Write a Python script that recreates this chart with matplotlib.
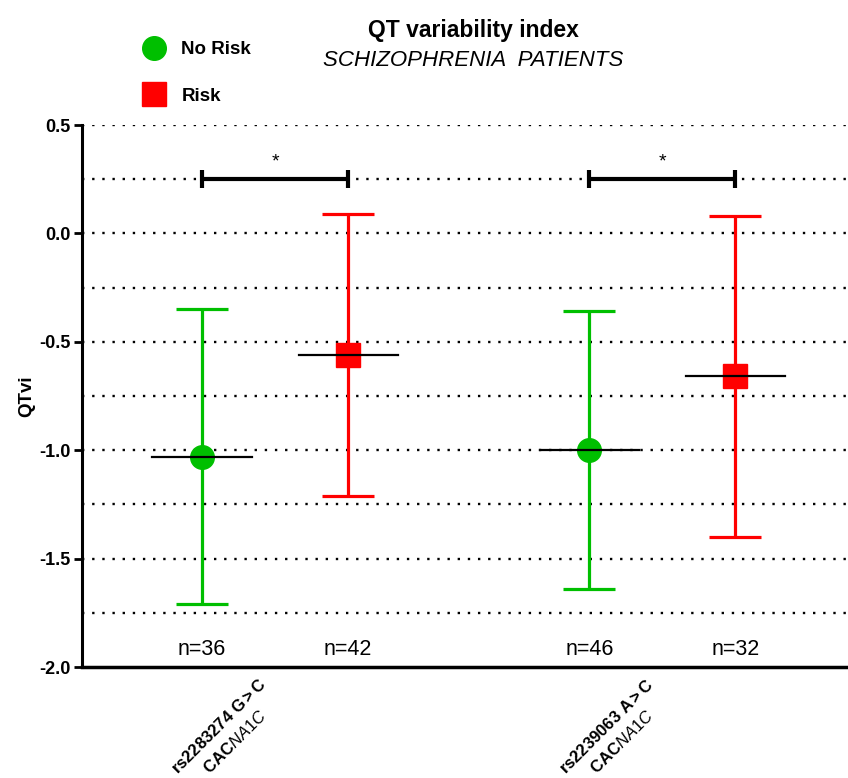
import matplotlib.pyplot as plt
import numpy as np
from matplotlib.lines import Line2D

plt.rcParams['font.family'] = ['Liberation Sans', 'DejaVu Sans']
plt.rcParams['mathtext.fontset'] = 'custom'
plt.rcParams['mathtext.rm'] = 'Liberation Sans'
plt.rcParams['mathtext.bf'] = 'Liberation Sans:bold'
plt.rcParams['mathtext.it'] = 'Liberation Sans:italic'

# Data
groups = [r"$\bf{rs2283274\ G>C}$" + "\n" + r"$\bf{CAC}\it{NA1C}$",
          r"$\bf{rs2239063\ A>C}$" + "\n" + r"$\bf{CAC}\it{NA1C}$"]
positions = [1.0, 2.0, 3.65, 4.65]
status = ['No Risk', 'Risk', 'No Risk', 'Risk']
means = [-1.03, -0.56, -1.00, -0.66]
upper = [-0.35, 0.09, -0.36, 0.08]
lower = [-1.71, -1.21, -1.64, -1.40]
n_labels = ['n=36', 'n=42', 'n=46', 'n=32']
sig_y = 0.25
sig_pairs = [(0, 1), (2, 3)]

colors = {'No Risk': '#00BF00', 'Risk': '#FF0000'}
markers = {'No Risk': 'o', 'Risk': 's'}

fig = plt.figure(figsize=(8.48, 7.78), dpi=100)
ax = fig.add_axes([82 / 848, 1 - 667 / 778, 1 - 82 / 848, 542 / 778])

# dotted grid
for g in np.arange(-1.75, 0.51, 0.25):
    ax.axhline(g, color='black', lw=1.7, ls=(0, (1, 3.3)), zorder=0)

for x, s, m, u, l in zip(positions, status, means, upper, lower):
    c = colors[s]
    ax.errorbar([x], [m], yerr=[[m - l], [u - m]], fmt='none', ecolor=c,
                elinewidth=2.3, capsize=19, capthick=2.3, zorder=2)
    ax.plot([x], [m], marker=markers[s], color=c, markersize=17, ls='none', zorder=3)
    ax.plot([x - 0.34, x + 0.34], [m, m], color='black', lw=1.6, zorder=4)

for n, x in zip(n_labels, positions):
    ax.text(x, -1.92, n, ha='center', va='center', fontsize=15.5)

for a, b in sig_pairs:
    xa, xb = positions[a], positions[b]
    ax.errorbar([(xa + xb) / 2], [sig_y], xerr=[(xb - xa) / 2], fmt='none',
                ecolor='black', elinewidth=3, capsize=6.5, capthick=3, zorder=5)
    ax.text((xa + xb) / 2, sig_y + 0.08, '*', ha='center', va='center', fontsize=14)

ax.set_xlim(0.178, 5.42)
ax.set_ylim(-2.0, 0.5)
ax.set_yticks([-2.0, -1.5, -1.0, -0.5, 0.0, 0.5])
ax.set_yticklabels([f'{v:.1f}' for v in ax.get_yticks()], fontweight='bold', fontsize=13)
ax.set_xticks([])
ax.tick_params(axis='y', direction='out', length=6, width=2, pad=2)
for sp in ['top', 'right']:
    ax.spines[sp].set_visible(False)
ax.spines['left'].set_linewidth(2.2)
ax.spines['bottom'].set_linewidth(2.5)
ax.set_ylabel('QTvi', fontweight='bold', fontsize=13.5, labelpad=3)

# group labels
for i, lab in enumerate(groups):
    cx = (positions[2 * i] + positions[2 * i + 1]) / 2
    ax.annotate(lab, xy=(cx, -2.0), xytext=(10, -9), textcoords='offset pixels',
                rotation=45, ha='right', va='top', fontsize=12, linespacing=1.45,
                multialignment='center', annotation_clip=False)

fig.text(473 / 848, 1 - 30 / 778, 'QT variability index', ha='center', va='center',
         fontsize=16.5, fontweight='bold')
fig.text(473 / 848, 1 - 61 / 778, 'SCHIZOPHRENIA  PATIENTS', ha='center', va='center',
         fontsize=16, style='italic')

handles = [Line2D([], [], marker='o', color=colors['No Risk'], ls='none', markersize=17),
           Line2D([], [], marker='s', color=colors['Risk'], ls='none', markersize=17)]
fig.legend(handles, ['No Risk', 'Risk'], loc='upper left', bbox_to_anchor=(126 / 848, 1 - 32 / 778),
           frameon=False, labelspacing=1.55, handletextpad=0.45, borderpad=0,
           prop={'weight': 'bold', 'size': 13.5})

fig.savefig('out.png', dpi=100)
